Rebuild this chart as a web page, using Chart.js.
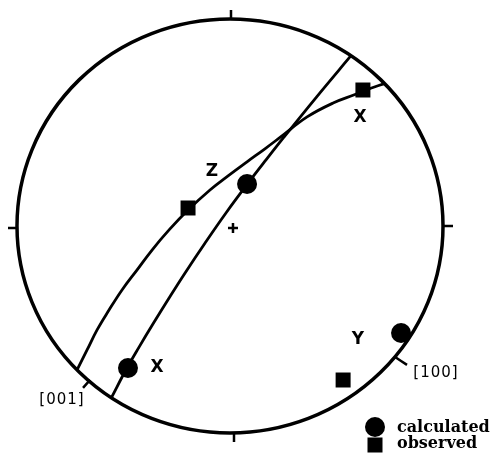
<!DOCTYPE html>
<html>
<head>
<meta charset="utf-8">
<script src="https://cdn.jsdelivr.net/npm/chart.js@4.4.0/dist/chart.umd.min.js"></script>
<style>
  html, body { margin: 0; padding: 0; background: #fff; }
  canvas { display: block; }
</style>
</head>
<body>
<canvas id="stereo" width="492" height="461"></canvas>
<script>
// net radius = 100, x to the east, y to the north
const arcOne = [
    {x: -55.6, y: -82.8}, {x: -48.4, y: -68.6}, {x: -42.7, y: -58.5}, {x: -35.9, y: -46.9},
    {x: -28.6, y: -34.8}, {x: -21.1, y: -22.7}, {x: -11.7, y: -8.2}, {x: -1.9, y: 6.3},
    {x: 8.2, y: 20.3}, {x: 16.9, y: 31.9}, {x: 25.4, y: 43.0}, {x: 40.6, y: 62.3},
    {x: 57.0, y: 82.5}
];
const arcTwo = [
    {x: -71.8, y: -69.5}, {x: -67.1, y: -59.9}, {x: -62.4, y: -50.2}, {x: -56.8, y: -40.6},
    {x: -50.7, y: -30.9}, {x: -43.7, y: -21.3}, {x: -36.6, y: -11.6}, {x: -28.6, y: -1.9},
    {x: -19.7, y: 7.7}, {x: -9.4, y: 17.4}, {x: -0.9, y: 24.2}, {x: 8.0, y: 31.0},
    {x: 16.4, y: 37.3}, {x: 23.5, y: 42.8}, {x: 36.2, y: 52.7}, {x: 48.4, y: 59.4},
    {x: 58.7, y: 63.5}, {x: 62.4, y: 65.2}, {x: 67.1, y: 66.9}, {x: 72.5, y: 68.8}
];
const calculated = [{x: 8.0, y: 20.3}, {x: -47.9, y: -68.6}, {x: 80.3, y: -51.7}];
const observed = [{x: -19.7, y: 8.7}, {x: 62.4, y: 65.7}, {x: 53.1, y: -74.4}];
const centre = [{x: 1.4, y: -1.0}];
const tick001 = [{x: -65.7, y: -74.4}, {x: -69.0, y: -78.2}];
const tick100 = [{x: 77.5, y: -63.3}, {x: 83.1, y: -67.1}];

const axisLabels = [
    {text: 'Z', x: -8.5, y: 26.1},
    {text: 'X', x: 61.0, y: 52.2},
    {text: 'X', x: -34.3, y: -68.6},
    {text: 'Y', x: 60.1, y: -55.1}
];
const indexLabels = [
    {text: '[100]', x: 96.7, y: -71.0},
    {text: '[001]', x: -78.9, y: -84.1}
];
const legendItems = ['calculated', 'observed'];

// primitive circle, N/E/S/W ticks and the text
const netPlugin = {
    id: 'net',
    beforeDatasetsDraw(chart) {
        const ctx = chart.ctx;
        const sx = chart.scales.x, sy = chart.scales.y;
        const cx = sx.getPixelForValue(0), cy = sy.getPixelForValue(0);
        const rx = sx.getPixelForValue(100) - cx;
        const ry = cy - sy.getPixelForValue(100);
        ctx.save();
        ctx.strokeStyle = '#000';
        ctx.lineWidth = 3.5;
        ctx.beginPath();
        ctx.ellipse(cx, cy, rx, ry, 0, 0, Math.PI * 2);
        ctx.stroke();
        ctx.lineWidth = 2.5;
        ctx.beginPath();
        ctx.moveTo(cx + 1, cy - ry); ctx.lineTo(cx + 1, cy - ry - 9);
        ctx.moveTo(cx + 4, cy + ry); ctx.lineTo(cx + 4, cy + ry + 9);
        ctx.moveTo(cx - rx, cy + 2); ctx.lineTo(cx - rx - 9, cy + 2);
        ctx.moveTo(cx + rx, cy); ctx.lineTo(cx + rx + 10, cy);
        ctx.stroke();
        ctx.restore();
    },
    afterDatasetsDraw(chart) {
        const ctx = chart.ctx;
        const sx = chart.scales.x, sy = chart.scales.y;
        ctx.save();
        ctx.fillStyle = '#000';
        ctx.textAlign = 'center';
        ctx.textBaseline = 'middle';
        ctx.font = 'bold 17px "DejaVu Sans"';
        axisLabels.forEach(l => ctx.fillText(l.text, sx.getPixelForValue(l.x), sy.getPixelForValue(l.y)));
        ctx.font = '15px "DejaVu Sans"';
        ctx.letterSpacing = '1px';
        indexLabels.forEach(l => ctx.fillText(l.text, sx.getPixelForValue(l.x), sy.getPixelForValue(l.y)));
        ctx.letterSpacing = '0px';

        // legend, bottom right corner
        const area = chart.chartArea;
        const lx = area.right - 117, ly = area.bottom - 34;
        ctx.beginPath();
        ctx.arc(lx, ly, 10, 0, Math.PI * 2);
        ctx.fill();
        ctx.fillRect(lx - 7.5, ly + 10.5, 15, 15);
        ctx.textAlign = 'left';
        ctx.font = 'bold 16px "DejaVu Serif"';
        ctx.fillText(legendItems[0], lx + 22, ly + 1);
        ctx.fillText(legendItems[1], lx + 22, ly + 17);
        ctx.restore();
    }
};

function lineSet(points, width) {
    return {
        type: 'line',
        data: points,
        borderColor: '#000',
        borderWidth: width,
        pointRadius: 0,
        tension: 0.4,
        fill: false
    };
}

const ctx = document.getElementById('stereo').getContext('2d');
new Chart(ctx, {
    type: 'scatter',
    data: {
        datasets: [
            lineSet(arcOne, 2.8),
            lineSet(arcTwo, 2.8),
            lineSet(tick001, 2.5),
            lineSet(tick100, 2.5),
            {
                label: 'calculated',
                data: calculated,
                pointStyle: 'circle',
                pointRadius: 10,
                backgroundColor: '#000',
                borderColor: '#000',
                borderWidth: 0
            },
            {
                label: 'observed',
                data: observed,
                pointStyle: 'rect',
                pointRadius: 10.6,
                backgroundColor: '#000',
                borderColor: '#000',
                borderWidth: 0
            },
            {
                data: centre,
                pointStyle: 'cross',
                pointRadius: 5,
                borderColor: '#000',
                borderWidth: 2.5
            }
        ]
    },
    options: {
        responsive: false,
        animation: false,
        events: [],
        layout: { padding: 0, autoPadding: false },
        plugins: { legend: { display: false }, tooltip: { enabled: false } },
        scales: {
            x: { type: 'linear', display: false, min: -107.98, max: 123.0 },
            y: { type: 'linear', display: false, min: -113.53, max: 109.18 }
        }
    },
    plugins: [netPlugin]
});
</script>
</body>
</html>
